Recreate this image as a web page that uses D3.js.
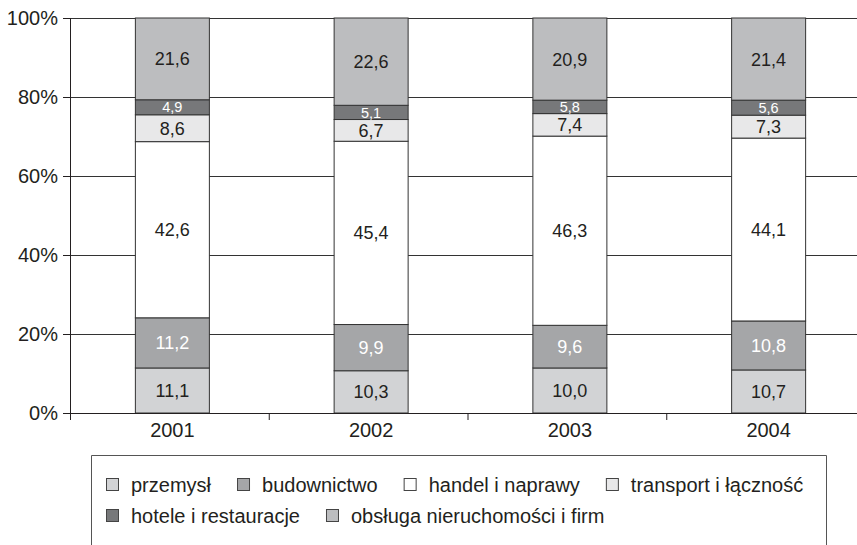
<!DOCTYPE html>
<html><head><meta charset="utf-8">
<script src="https://cdn.jsdelivr.net/npm/d3@7"></script>
<style>
html,body{margin:0;padding:0;background:#fff;}
svg{display:block;font-family:"Liberation Sans",Arial,sans-serif;}
</style></head>
<body>
<svg id="c" width="857" height="545"></svg>
<script>
const years = ["2001","2002","2003","2004"];
const seriesNames = ["przemysł","budownictwo","handel i naprawy","transport i łączność","hotele i restauracje","obsługa nieruchomości i firm"];
// printed value labels (as written in the bars)
const przemyslLabel    = ["11,1","10,3","10,0","10,7"];
const budownictwoLabel = ["11,2","9,9","9,6","10,8"];
const handelLabel      = ["42,6","45,4","46,3","44,1"];
const transportLabel   = ["8,6","6,7","7,4","7,3"];
const hoteleLabel      = ["4,9","5,1","5,8","5,6"];
const obslugaLabel     = ["21,6","22,6","20,9","21,4"];
// segment heights as drawn in the picture (percent of bar)
const przemysl    = [11.4, 10.7, 11.4, 10.9];
const budownictwo = [12.7, 11.7, 10.8, 12.4];
const handel      = [44.6, 46.4, 47.9, 46.3];
const transport   = [6.8, 5.5, 5.7, 5.8];
const hotele      = [3.8, 3.6, 3.4, 3.8];
const obsluga     = [20.7, 22.1, 20.8, 20.8];
const yTicks = [0, 20, 40, 60, 80, 100];

const fills = ["#d2d3d5","#a5a6a8","#ffffff","#e8e8e9","#77787a","#bcbdbf"];
const labelColors = ["#231f20","#ffffff","#231f20","#231f20","#ffffff","#231f20"];
const labelSizes = [18,18,18,18,14.5,18];
const seriesVals = [przemysl, budownictwo, handel, transport, hotele, obsluga];
const seriesLabels = [przemyslLabel, budownictwoLabel, handelLabel, transportLabel, hoteleLabel, obslugaLabel];

const table = years.map((y,i)=>{
  const o = {year:y, idx:i};
  seriesNames.forEach((s,j)=>o[s]=seriesVals[j][i]);
  return o;
});
const stack = d3.stack().keys(seriesNames)(table);

const svg = d3.select("#c");
const x = d3.scaleBand().domain(years).range([70,865]).paddingInner(0).paddingOuter(0);
const y = d3.scaleLinear().domain([0,100]).range([413,18]);
const barW = 74, shift = 3;
const ink = "#231f20";

// gridlines
svg.append("g").selectAll("line").data(yTicks.filter(t=>t>0)).join("line")
  .attr("x1",70).attr("x2",857).attr("y1",d=>Math.round(y(d))+0.5).attr("y2",d=>Math.round(y(d))+0.5)
  .attr("stroke","#333").attr("stroke-width",1);

// bars
const gBars = svg.append("g");
stack.forEach((layer,j)=>{
  gBars.selectAll(null).data(layer).join("rect")
    .attr("x",d=>x(d.data.year)+x.bandwidth()/2+shift-barW/2)
    .attr("width",barW)
    .attr("y",d=>y(d[1]))
    .attr("height",d=>y(d[0])-y(d[1]))
    .attr("fill",fills[j]).attr("stroke","#333").attr("stroke-width",1);
});
stack.forEach((layer,j)=>{
  gBars.selectAll(null).data(layer).join("text")
    .attr("x",d=>x(d.data.year)+x.bandwidth()/2+shift)
    .attr("y",d=>(y(d[0])+y(d[1]))/2)
    .attr("dy","0.36em")
    .attr("text-anchor","middle")
    .attr("font-size",labelSizes[j])
    .attr("fill",labelColors[j])
    .text(d=>seriesLabels[j][d.data.idx]);
});

// y axis
const yAxis = svg.append("g").attr("transform","translate(70,0)")
  .call(d3.axisLeft(y).tickValues(yTicks).tickFormat(d=>d+"%").tickSize(7).tickPadding(5));
yAxis.select(".domain").attr("stroke",ink).attr("d","M0.5,18V413.5");
yAxis.selectAll(".tick line").attr("stroke",ink);
yAxis.selectAll("text").attr("font-size",20).attr("fill",ink).attr("font-family","Liberation Sans, Arial, sans-serif");

// x axis
const xAxis = svg.append("g").attr("transform","translate(0,413)")
  .call(d3.axisBottom(x).tickSize(0).tickPadding(0));
xAxis.select(".domain").remove();
xAxis.selectAll(".tick text").attr("font-size",20).attr("fill",ink)
  .attr("font-family","Liberation Sans, Arial, sans-serif")
  .attr("transform",`translate(${shift},0)`).attr("dy",null).attr("y",24);
svg.append("line").attr("x1",63).attr("x2",857).attr("y1",413.5).attr("y2",413.5).attr("stroke",ink);
const bounds = x.domain().map(d=>x(d));
svg.append("g").selectAll("line").data(bounds).join("line")
  .attr("x1",d=>d+0.5).attr("x2",d=>d+0.5).attr("y1",413).attr("y2",420).attr("stroke",ink);

// legend
svg.append("path").attr("d","M91.5,546V455.5H826.5V546").attr("fill","none").attr("stroke","#555");
const rows = [[0,1,2,3],[4,5]];
const rowY = [492, 523];
rows.forEach((r,ri)=>{
  let cx = 106;
  r.forEach(j=>{
    svg.append("rect").attr("x",cx+0.5).attr("y",rowY[ri]-13.5).attr("width",12).attr("height",12)
      .attr("fill",fills[j]).attr("stroke","#444").attr("stroke-width",1);
    const t = svg.append("text").attr("x",cx+25).attr("y",rowY[ri]).attr("font-size",20).attr("fill",ink).text(seriesNames[j]);
    cx = cx + 25 + t.node().getComputedTextLength() + 26;
  });
});
</script>
</body></html>
